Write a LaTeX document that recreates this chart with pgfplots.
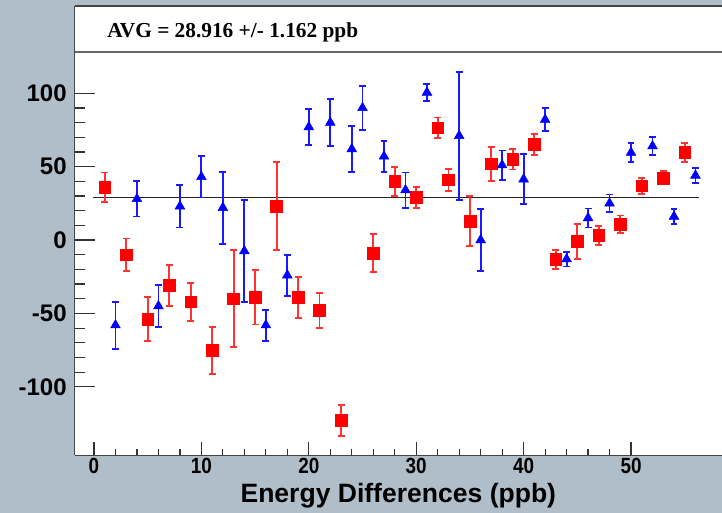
\documentclass[border=0pt]{standalone}
\usepackage{pgfplots}
\pgfplotsset{compat=1.18}
\usepackage{pgfplotstable}
\usepackage{fontspec}
\setmainfont{Liberation Sans}
\newfontfamily\titlefont{Liberation Serif}
\newfontfamily\xfont[FakeStretch=0.86]{Liberation Sans}
\definecolor{bgc}{RGB}{176,190,201}
\definecolor{errred}{RGB}{255,50,50}
\definecolor{errblue}{RGB}{25,25,255}
\definecolor{framec}{RGB}{70,70,70}

\pgfplotstableread{
x y e
1 36 10
3 -10 11
5 -54 15
7 -31 14
9 -42 13
11 -75 16
13 -40 33
15 -39 18.5
17 23 30
19 -39 14
21 -48 12
23 -123 10.5
26 -9 13
28 40 10
30 29 7
32 76.5 7
33 41 7.5
35 13 17
37 52 11.5
39 55 7
41 65 7
43 -13 6.5
45 -1 12
47 3 6.5
49 10.7 6
51 37 5.5
53 42.3 4.5
55 59.6 6.3
}\reddata

\pgfplotstableread{
x y e
2 -58 16
4 28 12
6 -45 14.5
8 23 14.5
10 43 14
12 22 24.5
14 -7.5 35
16 -58 10.5
18 -24 14
20 77 12
22 80 16
24 62 15.5
25 90 15
27 57 10.5
29 34 12
31 100.5 6
34 71 43.5
36 0 21
38 51 10
40 41.4 17
42 82 8
44 -13 5
46 15 6.5
48 25 6
50 59.5 6.5
52 64 6
54 16 5
56 44 5
}\bluedata

\begin{document}
\begin{tikzpicture}
\useasboundingbox (0,0) rectangle (541.5pt,384.75pt);
\fill[bgc] (0,0) rectangle (541.5pt,384.75pt);
\fill[white] (56pt,345.5pt) rectangle (541.5pt,380.25pt);
\begin{axis}[
  at={(56pt,43.3pt)}, anchor=south west,
  scale only axis, width=485.5pt, height=302.25pt,
  xmin=-1.8, xmax=58.47, ymin=-146.6, ymax=127.9,
  axis x line*=bottom, axis y line*=left,
  axis line style={draw=framec, line width=1.1pt},
  axis background/.style={fill=white},
  xtick={0,10,...,50}, ytick={-100,-50,0,50,100},
  minor tick num=4,
  tick align=inside,
  major tick length=15pt, minor tick length=7.5pt,
  major x tick style={/pgfplots/major tick length=10pt},
  minor x tick style={/pgfplots/minor tick length=5pt},
  tick style={draw=black!80, line width=0.9pt},
  /pgf/number format/assume math mode=true,
  yticklabel style={font=\fontsize{18}{18}\selectfont\bfseries, anchor=east, inner sep=0pt, xshift=-5.8pt},
  xticklabel style={font=\xfont\fontsize{16.5}{16.5}\selectfont\bfseries, anchor=north, inner sep=0pt, yshift=-2.3pt},
  xlabel={Energy Differences (ppb)},
  xlabel style={font=\fontsize{19.9}{19.9}\selectfont\bfseries, at={(axis description cs:0.5,0)}, anchor=base, yshift=-35.8pt, inner sep=0pt},
  clip=false,
]
\addplot[black!85, line width=0.9pt] coordinates {(-0.1,28.916) (56.3,28.916)};
\addplot[only marks, mark=square*, mark size=4.4pt, color=red, mark options={fill=red, draw=red},
  error bars/.cd, y dir=both, y explicit,
  error bar style={line width=1.4pt, color=errred},
  error mark options={rotate=90, mark size=2.6pt, line width=1.4pt, color=errred}]
  table[x=x, y=y, y error=e] {\reddata};
\addplot[only marks, mark=triangle*, mark size=4.2pt, color=blue, mark options={fill=blue, draw=blue},
  error bars/.cd, y dir=both, y explicit,
  error bar style={line width=1.4pt, color=errblue},
  error mark options={rotate=90, mark size=2.6pt, line width=1.4pt, color=errblue}]
  table[x=x, y=y, y error=e] {\bluedata};
\end{axis}
\draw[framec, line width=1.5pt] (56pt,380.25pt) -- (541.5pt,380.25pt);
\draw[black!60, line width=1.6pt] (56pt,345.5pt) -- (541.5pt,345.5pt);
\draw[framec, line width=1.1pt] (56pt,345.5pt) -- (56pt,380.25pt);
\node[anchor=base west, inner sep=0pt, font=\titlefont\fontsize{16}{16}\selectfont\bfseries] at (80.25pt,356.25pt) {AVG = 28.916 +/- 1.162 ppb};
\end{tikzpicture}
\end{document}
